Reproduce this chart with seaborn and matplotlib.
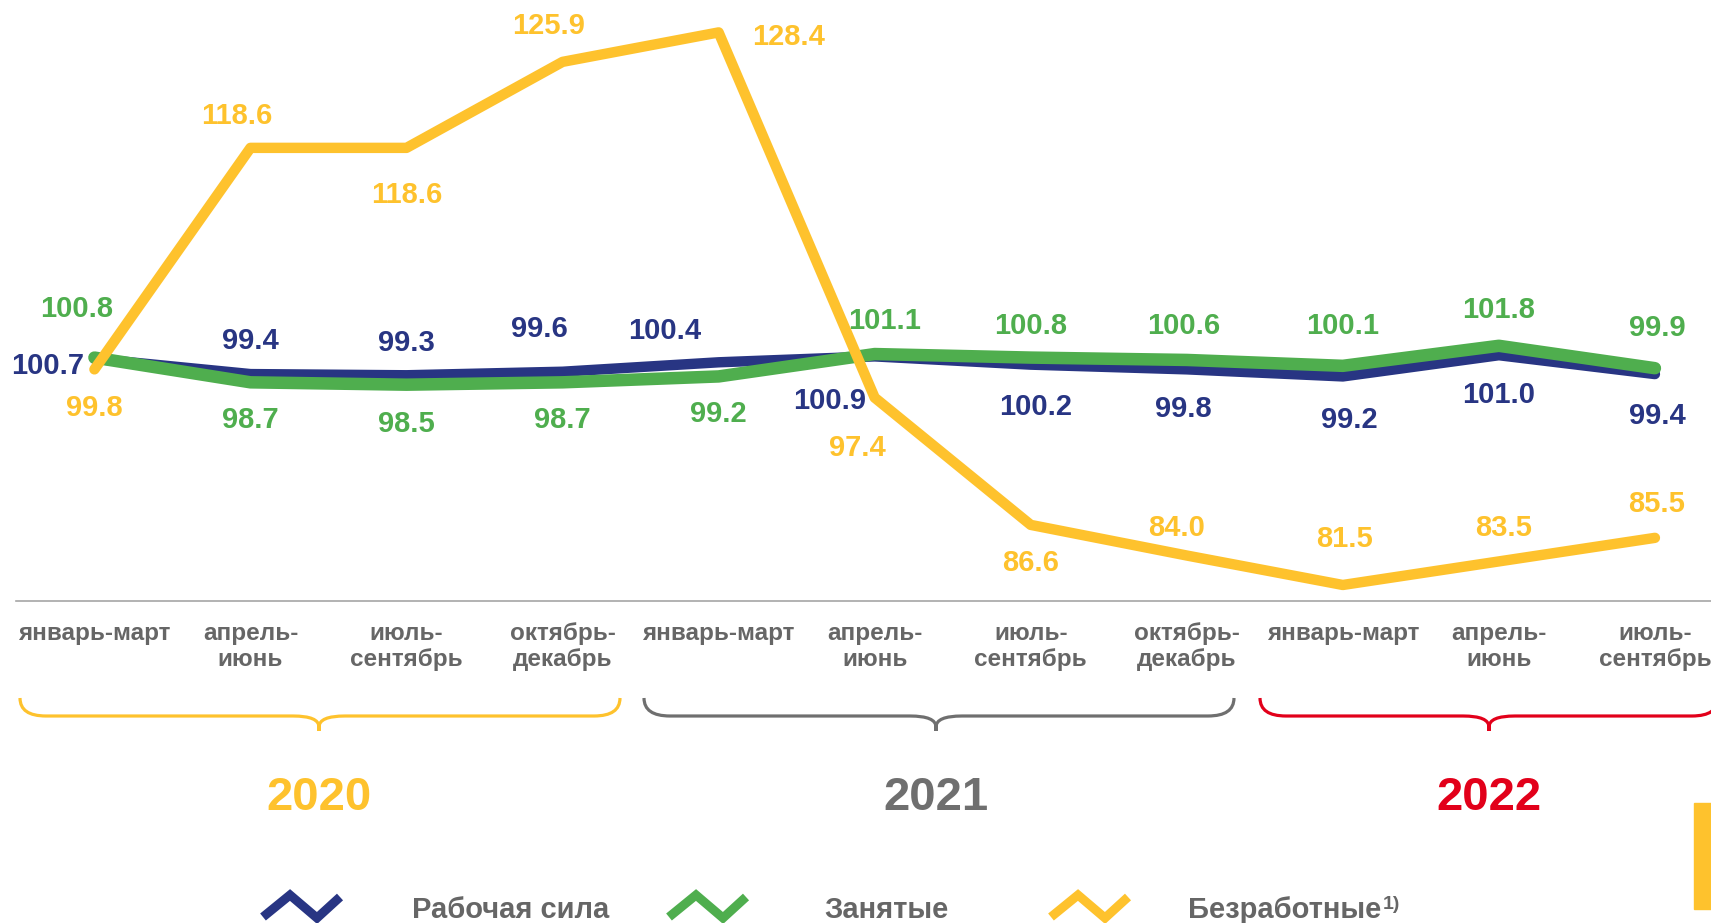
import numpy as np
import pandas as pd
import seaborn as sns
import matplotlib.pyplot as plt
from matplotlib.lines import Line2D
from matplotlib.path import Path
from matplotlib.patches import PathPatch, Rectangle

# data
quarters = ["январь-март", "апрель-\nиюнь", "июль-\nсентябрь", "октябрь-\nдекабрь"]
periods = quarters + quarters + quarters[:3]
years = ["2020", "2021", "2022"]
labour_force = [100.7, 99.4, 99.3, 99.6, 100.4, 100.9, 100.2, 99.8, 99.2, 101.0, 99.4]
employed = [100.8, 98.7, 98.5, 98.7, 99.2, 101.1, 100.8, 100.6, 100.1, 101.8, 99.9]
unemployed = [99.8, 118.6, 118.6, 125.9, 128.4, 97.4, 86.6, 84.0, 81.5, 83.5, 85.5]
names = ["Рабочая сила", "Занятые", "Безработные"]

BLUE = "#283583"
GREEN = "#4FAE4E"
YELLOW = "#FEC22D"
RED = "#E2001A"
GREY = "#666666"

W, H = 1711, 923
sns.set_style("white")
plt.rcParams['font.family'] = ['Liberation Sans', 'DejaVu Sans']
plt.rcParams['font.weight'] = 'bold'

df = pd.DataFrame({'idx': np.arange(len(periods)),
                   names[0]: labour_force, names[1]: employed, names[2]: unemployed})

fig = plt.figure(figsize=(W / 100, H / 100), dpi=100)
ax = fig.add_axes([16.4 / W, 1 - 601 / H, 11 * 156.05 / W, 601 / H])


def px(x, y):
    return x / W, 1 - y / H


sns.lineplot(data=df, x='idx', y=names[0], color=BLUE, linewidth=7.5, ax=ax)
sns.lineplot(data=df, x='idx', y=names[1], color=GREEN, linewidth=9, ax=ax)
sns.lineplot(data=df, x='idx', y=names[2], color=YELLOW, linewidth=7.5, ax=ax)
for ln in ax.lines:
    ln.set_solid_joinstyle('round')
    ln.set_solid_capstyle('round')

ax.set_xlim(-0.5, 10.5)
ax.set_ylim(80.14, 131.15)
ax.set_xlabel('')
ax.set_ylabel('')
ax.set_yticks([])
ax.set_xticks(range(len(periods)))
ax.set_xticklabels(periods, fontsize=17.5, color=GREY, fontweight='bold', linespacing=1.15)
ax.set_xticks(np.arange(-0.5, 11, 1), minor=True)
ax.tick_params(axis='x', which='major', length=0, pad=15)
ax.tick_params(axis='x', which='minor', length=5, width=1, color='#A6A6A6', direction='out')
for s in ['left', 'top', 'right']:
    ax.spines[s].set_visible(False)
ax.spines['bottom'].set_color('#A6A6A6')
ax.spines['bottom'].set_linewidth(1.2)

# value labels (offsets in pixels to label centre)
blue_off = [(-47, -5), (0, 35), (0, 34), (-23, 45), (-54, 33), (-45, -43), (5, -40), (-3, -38), (6, -42), (0, -38), (2, -40)]
green_off = [(-18, 51), (0, -36), (0, -37), (0, -36), (0, -36), (10, 35), (0, 34), (-3, 36), (0, 42), (0, 38), (2, 42)]
yellow_off = [(0, -37), (-14, 34), (0, -45), (-14, 38), (70, -3), (-17, -48), (0, -36), (-10, 30), (2, 48), (5, 35), (2, 36)]

for vals, offs, col in [(labour_force, blue_off, BLUE), (employed, green_off, GREEN),
                        (unemployed, yellow_off, YELLOW)]:
    for i, (v, (dx, dy)) in enumerate(zip(vals, offs)):
        ax.annotate(f"{v:.1f}", (i, v), xytext=(dx, dy - 10), textcoords='offset pixels',
                    ha='center', va='baseline', fontsize=21, fontweight='bold', color=col,
                    annotation_clip=False)


# braces under the axis
def brace(x0, x1, xc, color):
    ytop, ymid, ytip, r = 698, 716, 731, 26
    pts = [(x0, ytop), (x0, ymid), (x0 + r, ymid), (xc - r, ymid), (xc, ymid), (xc, ymid + 11),
           (xc, ytip), (xc, ymid + 11), (xc, ymid), (xc + r, ymid), (x1 - r, ymid), (x1, ymid), (x1, ytop)]
    codes = [Path.MOVETO, Path.CURVE3, Path.CURVE3, Path.LINETO, Path.CURVE3, Path.CURVE3,
             Path.LINETO, Path.LINETO, Path.CURVE3, Path.CURVE3, Path.LINETO, Path.CURVE3, Path.CURVE3]
    verts = [px(x, y) for x, y in pts]
    fig.add_artist(PathPatch(Path(verts, codes), fill=False, edgecolor=color, lw=2.3,
                             transform=fig.transFigure, capstyle='butt'))


year_cols = [YELLOW, "#6F6F6F", RED]
brace_x = [(20, 620, 319), (644, 1234, 936), (1260, 1718, 1489)]
for yr, col, (a, b, c) in zip(years, year_cols, brace_x):
    brace(a, b, c, col)
    fig.text(*px(c, 810), yr, ha='center', va='baseline', fontsize=34, fontweight='bold', color=col)

# legend
zig = [(0, 22), (27, 0), (54, 23), (77, 2)]
leg = [(263, 412, BLUE, names[0]), (669, 824, GREEN, names[1]), (1051, 1188, YELLOW, names[2])]
for mx, tx, col, name in leg:
    xs, ys = zip(*[px(mx + a, 895 + b) for a, b in zig])
    fig.add_artist(Line2D(xs, ys, color=col, lw=6.5, solid_joinstyle='miter',
                          solid_capstyle='butt', transform=fig.transFigure))
    t = fig.text(*px(tx, 918), name, ha='left', va='baseline', fontsize=21, fontweight='bold', color=GREY)

fig.canvas.draw()
bb = t.get_window_extent()
fig.text(bb.x1 / W + 2 / W, 1 - 909 / H, "1)", ha='left', va='baseline', fontsize=14,
         fontweight='bold', color=GREY)

fig.add_artist(Rectangle(px(1694, 909), 17 / W, 106 / H, color=YELLOW, transform=fig.transFigure))

plt.savefig('out.png', dpi=100)
